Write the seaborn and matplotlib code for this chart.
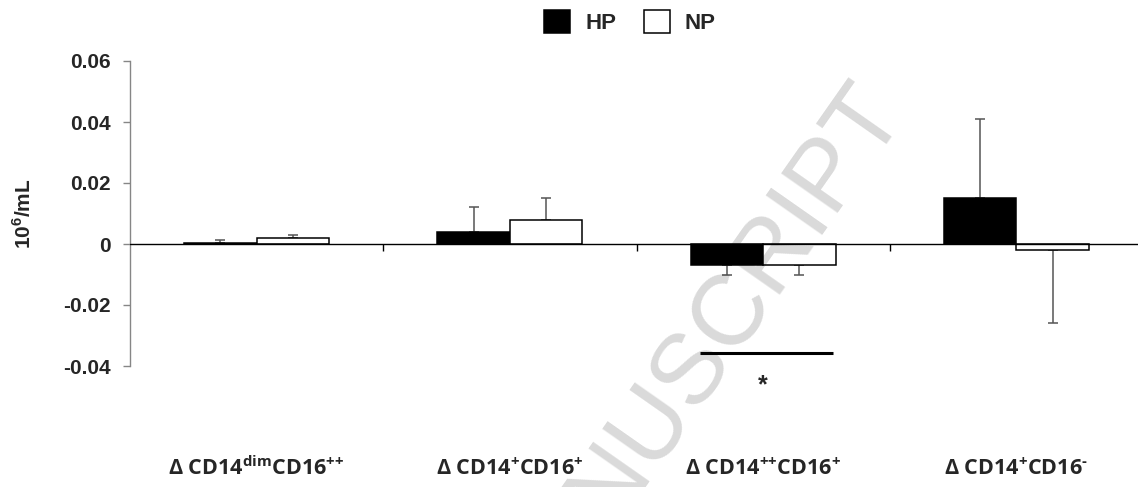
import numpy as np
import pandas as pd
import matplotlib
matplotlib.use("Agg")
import matplotlib.pyplot as plt
import matplotlib.transforms as mtransforms
import seaborn as sns

# ---- data ----
categories = [r"Δ CD14$^{\mathrm{dim}}$CD16$^{\mathrm{{+}{+}}}$",
              r"Δ CD14$^{\mathrm{{+}}}$CD16$^{\mathrm{{+}}}$",
              r"Δ CD14$^{\mathrm{{+}{+}}}$CD16$^{\mathrm{{+}}}$",
              r"Δ CD14$^{\mathrm{{+}}}$CD16$^{\text{-}}$"]
groups = ["HP", "NP"]
hp_values = [0.0002, 0.004, -0.007, 0.015]
np_values = [0.002, 0.008, -0.007, -0.002]
hp_err = [0.001, 0.008, 0.003, 0.026]
np_err = [0.001, 0.007, 0.003, 0.024]
yticks = [-0.04, -0.02, 0, 0.02, 0.04, 0.06]
ytick_labels = ["-0.04", "-0.02", "0", "0.02", "0.04", "0.06"]
sig_y = -0.0357

sns.set_theme(style="white")
plt.rcParams['font.family'] = ['Liberation Sans', 'DejaVu Sans']
plt.rcParams['mathtext.fontset'] = 'custom'
plt.rcParams['mathtext.rm'] = 'Open Sans:bold'
plt.rcParams['mathtext.sf'] = 'Liberation Sans:bold'

df = pd.DataFrame({
    "cat": ["c0", "c1", "c2", "c3"] * 2,
    "val": hp_values + np_values,
    "grp": ["HP"] * 4 + ["NP"] * 4,
})

W, H = 1138, 487
fig = plt.figure(figsize=(W / 100, H / 100), dpi=100)
ax = fig.add_axes([130 / W, (H - 366) / H, (W - 130) / W, 305 / H])

sns.barplot(data=df, x="cat", y="val", hue="grp", hue_order=groups,
            palette={"HP": "black", "NP": "white"}, edgecolor="black",
            linewidth=1.1, width=0.573, errorbar=None, ax=ax, zorder=3)

# error bars (one-sided, away from zero)
errs = {"HP": hp_err, "NP": np_err}
vals = {"HP": hp_values, "NP": np_values}
for cont, g in zip(ax.containers, groups):
    xs = [b.get_x() + b.get_width() / 2 for b in cont]
    v = np.array(vals[g]); e = np.array(errs[g])
    lower = np.where(v < 0, e, 0)
    upper = np.where(v >= 0, e, 0)
    ax.errorbar(xs, v, yerr=[lower, upper], fmt="none", ecolor="#555555",
                elinewidth=1.1, capsize=3.6, capthick=1.1, zorder=2)

ax.set_xlim(-0.5, 3.48)
ax.set_ylim(-0.04, 0.06)
ax.set_yticks(yticks)
ax.set_yticklabels(ytick_labels, fontsize=15, fontweight="bold")
ax.set_xticks([])
ax.set_xlabel("")
ax.set_ylabel(r"10$^{\mathsf{6}}$/mL", fontsize=15, fontweight="bold", labelpad=20)
ax.tick_params(axis="y", direction="out", length=5, width=1, color="#868686",
               left=True, pad=9)
for s in ["top", "right", "bottom"]:
    ax.spines[s].set_visible(False)
ax.spines["left"].set_color("#868686")
ax.spines["left"].set_linewidth(1)

ax.axhline(0, color="black", lw=1, zorder=4)
ax.vlines([0.5, 1.5, 2.5], -0.0022, 0, color="black", lw=1, zorder=4)

# significance
ax.hlines(sig_y, 1.749, 2.275, color="black", lw=2.2, clip_on=False)
ax.text(2.0, -0.0485, "*", ha="center", va="baseline", fontsize=18,
        fontweight="bold", clip_on=False)

# category labels
trans = mtransforms.blended_transform_factory(ax.transData, fig.transFigure)
for i, lab in enumerate(categories):
    ax.text(i, 1 - 468 / H, lab, transform=trans, ha="center", va="center",
            fontsize=15.5, family=["Open Sans", "DejaVu Sans"], fontweight="bold")

sns.move_legend(ax, "center", bbox_to_anchor=(0.496, 1.128), ncol=2,
                frameon=False, title=None, fontsize=16,
                handlelength=1.18, handleheight=1.18, handletextpad=0.68,
                columnspacing=1.23)
for t in ax.get_legend().get_texts():
    t.set_fontweight("bold")

# watermark
fig.text(907 / W, 1 - 115 / H, "ACCEPTED MANUSCRIPT", rotation=55,
         rotation_mode="anchor", ha="right", va="baseline", fontsize=72,
         color="black", alpha=0.15, zorder=10)

fig.savefig("out.png", dpi=100)
